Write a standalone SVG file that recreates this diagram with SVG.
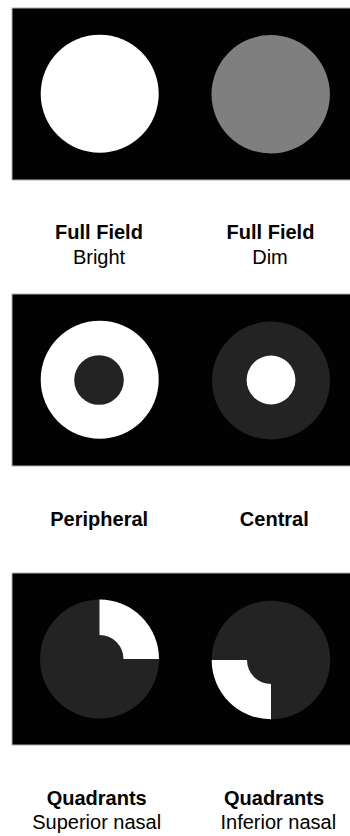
<svg xmlns="http://www.w3.org/2000/svg" width="350" height="836" viewBox="0 0 350 836">
<style>
.panel{fill:#020202;stroke:#b0b0b0;stroke-width:1}
.w{fill:#ffffff}
.d{fill:#232323}
.g{fill:#7f7f7f}
text{font-family:"Liberation Sans",Arial,sans-serif;font-size:20px;fill:#000;text-anchor:middle}
.b{font-weight:bold}
</style>
<rect width="350" height="836" fill="#ffffff"/>
<g id="panel-full-field">
<rect class="panel" x="12" y="8" width="340" height="172"/>
<g id="full-bright"><circle class="w" cx="99.7" cy="93.8" r="59"/></g>
<g id="full-dim"><circle class="g" cx="270.7" cy="94.3" r="59.2"/></g>
</g>
<g id="label-full-bright"><text class="b" x="99" y="239">Full Field</text><text x="99" y="263.5">Bright</text></g>
<g id="label-full-dim"><text class="b" x="270.5" y="239">Full Field</text><text x="270" y="263.5">Dim</text></g>
<g id="panel-peripheral-central">
<rect class="panel" x="12" y="294" width="340" height="172"/>
<g id="peripheral"><circle class="w" cx="99.7" cy="379.7" r="59"/><circle class="d" cx="99" cy="380" r="24.8"/></g>
<g id="central"><circle class="d" cx="271" cy="380.6" r="59"/><circle class="w" cx="271" cy="380" r="24.4"/></g>
</g>
<g id="label-peripheral"><text class="b" x="99.2" y="526">Peripheral</text></g>
<g id="label-central"><text class="b" x="274.3" y="526">Central</text></g>
<g id="panel-quadrants">
<rect class="panel" x="12" y="573" width="340" height="172"/>
<g id="superior-nasal"><circle class="d" cx="99.5" cy="659" r="59.5"/><path class="w" d="M99.5 599.5 A59.5 59.5 0 0 1 159 659 L123.5 659 A24 24 0 0 0 99.5 635 Z"/></g>
<g id="inferior-nasal"><circle class="d" cx="271" cy="660" r="59.3"/><path class="w" d="M211.7 660 L247 660 A24 24 0 0 0 271 684 L271 719.3 A59.3 59.3 0 0 1 211.7 660 Z"/></g>
</g>
<g id="label-superior"><text class="b" x="96.7" y="805">Quadrants</text><text x="96.7" y="829">Superior nasal</text></g>
<g id="label-inferior"><text class="b" x="274" y="805">Quadrants</text><text x="278.3" y="829">Inferior nasal</text></g>
</svg>
